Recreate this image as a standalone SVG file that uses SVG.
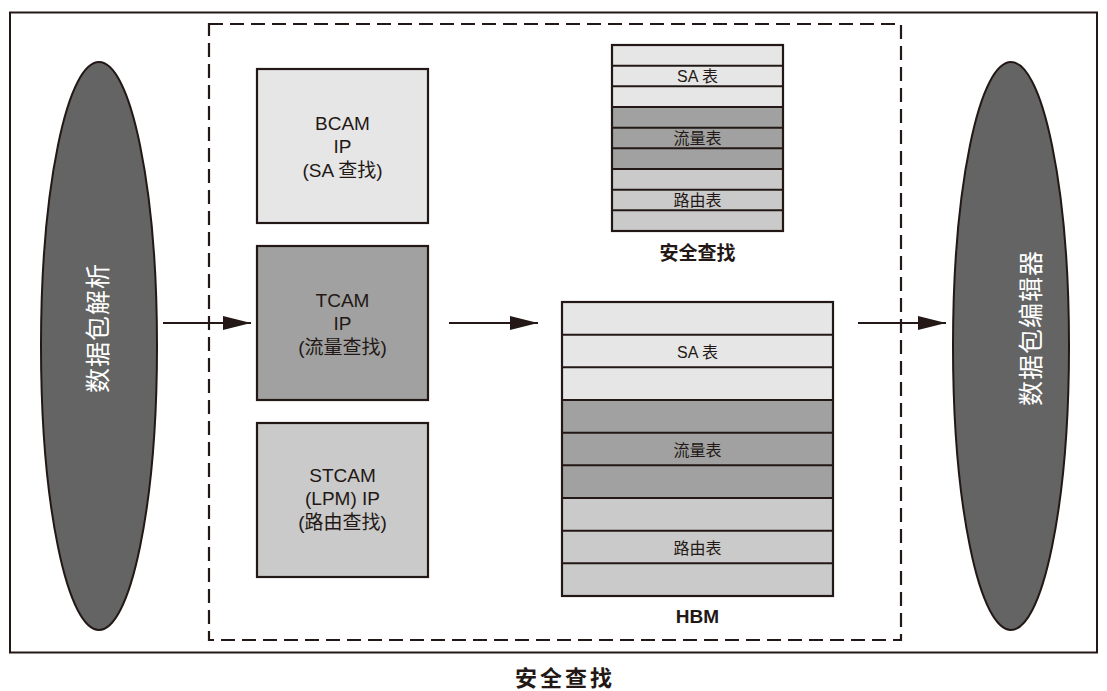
<svg xmlns="http://www.w3.org/2000/svg" width="1107" height="691" viewBox="0 0 1107 691">
  <style>
    .ln { stroke: #231815; stroke-width: 2; }
    .box { stroke: #231815; stroke-width: 2.2; }
    .l1 { fill: #e6e6e6; }
    .l2 { fill: #a0a1a0; }
    .l3 { fill: #c9cac9; }
    .t { font-family: "Liberation Sans", "Noto Sans CJK SC", sans-serif; fill: #231815; text-anchor: middle; }
    .b { font-weight: bold; }
    .w { fill: #ffffff; font-size: 25px; letter-spacing: 1px; }
    .ip { font-size: 19px; }
    .tb { font-size: 16px; }
  </style>
  <defs>
    <marker id="arr" markerWidth="28" markerHeight="14" refX="28" refY="7" orient="auto" markerUnits="userSpaceOnUse">
      <path d="M0,0 L28,7 L0,14 Z" fill="#231815"/>
    </marker>
  </defs>
  <rect width="1107" height="691" fill="#ffffff"/>

  <!-- frame -->
  <rect x="10" y="12.5" width="1087" height="640" fill="none" class="ln"/>
  <rect x="209" y="24" width="692" height="616" fill="none" stroke="#231815" stroke-width="2.2" stroke-dasharray="14 7"/>

  <!-- parser -->
  <g id="parser">
    <ellipse cx="99" cy="346" rx="58" ry="284" fill="#646464" class="ln"/>
    <text class="t w" transform="translate(107,328) rotate(-90)">数据包解析</text>
  </g>

  <!-- editor -->
  <g id="editor">
    <ellipse cx="1011" cy="346" rx="58" ry="284" fill="#646464" class="ln"/>
    <text class="t w" transform="translate(1040,328) rotate(-90)">数据包编辑器</text>
  </g>

  <!-- lookup IP blocks -->
  <g id="bcam">
    <rect x="257" y="69" width="171" height="154" class="box l1"/>
    <text class="t ip" x="342.5" y="130">BCAM</text>
    <text class="t ip" x="342.5" y="153">IP</text>
    <text class="t ip" x="342.5" y="177">(SA 查找)</text>
  </g>
  <g id="tcam">
    <rect x="257" y="246" width="171" height="154" class="box l2"/>
    <text class="t ip" x="342.5" y="307">TCAM</text>
    <text class="t ip" x="342.5" y="330">IP</text>
    <text class="t ip" x="342.5" y="354">(流量查找)</text>
  </g>
  <g id="stcam">
    <rect x="257" y="423" width="171" height="154" class="box l3"/>
    <text class="t ip" x="342.5" y="482">STCAM</text>
    <text class="t ip" x="342.5" y="505">(LPM) IP</text>
    <text class="t ip" x="342.5" y="529">(路由查找)</text>
  </g>

  <!-- on-chip lookup tables -->
  <g id="onchip">
    <rect x="612" y="45" width="171" height="62" class="l1"/>
    <rect x="612" y="107" width="171" height="62" class="l2"/>
    <rect x="612" y="169" width="171" height="62" class="l3"/>
    <g class="ln">
      <line x1="612" y1="65.7" x2="783" y2="65.7"/>
      <line x1="612" y1="86.3" x2="783" y2="86.3"/>
      <line x1="612" y1="107" x2="783" y2="107"/>
      <line x1="612" y1="127.7" x2="783" y2="127.7"/>
      <line x1="612" y1="148.3" x2="783" y2="148.3"/>
      <line x1="612" y1="169" x2="783" y2="169"/>
      <line x1="612" y1="189.7" x2="783" y2="189.7"/>
      <line x1="612" y1="210.3" x2="783" y2="210.3"/>
    </g>
    <rect x="612" y="45" width="171" height="186" fill="none" class="box"/>
    <text class="t tb" x="697.5" y="82">SA 表</text>
    <text class="t tb" x="697.5" y="144">流量表</text>
    <text class="t tb" x="697.5" y="206">路由表</text>
    <text class="t b" font-size="19" x="697.5" y="260">安全查找</text>
  </g>

  <!-- HBM tables -->
  <g id="hbm">
    <rect x="562" y="302" width="271" height="98" class="l1"/>
    <rect x="562" y="400" width="271" height="98" class="l2"/>
    <rect x="562" y="498" width="271" height="98" class="l3"/>
    <g class="ln">
      <line x1="562" y1="334.7" x2="833" y2="334.7"/>
      <line x1="562" y1="367.3" x2="833" y2="367.3"/>
      <line x1="562" y1="400" x2="833" y2="400"/>
      <line x1="562" y1="432.7" x2="833" y2="432.7"/>
      <line x1="562" y1="465.3" x2="833" y2="465.3"/>
      <line x1="562" y1="498" x2="833" y2="498"/>
      <line x1="562" y1="530.7" x2="833" y2="530.7"/>
      <line x1="562" y1="563.3" x2="833" y2="563.3"/>
    </g>
    <rect x="562" y="302" width="271" height="294" fill="none" class="box"/>
    <text class="t tb" x="697.5" y="358">SA 表</text>
    <text class="t tb" x="697.5" y="456">流量表</text>
    <text class="t tb" x="697.5" y="554">路由表</text>
    <text class="t b" font-size="19" x="697.5" y="623">HBM</text>
  </g>

  <!-- connectors -->
  <g id="connectors" class="ln" fill="none">
    <line x1="163" y1="323" x2="251" y2="323" marker-end="url(#arr)"/>
    <line x1="449" y1="323" x2="538" y2="323" marker-end="url(#arr)"/>
    <line x1="858" y1="323" x2="946" y2="323" marker-end="url(#arr)"/>
  </g>

  <text class="t b" font-size="22" letter-spacing="3" x="565" y="686">安全查找</text>
</svg>
